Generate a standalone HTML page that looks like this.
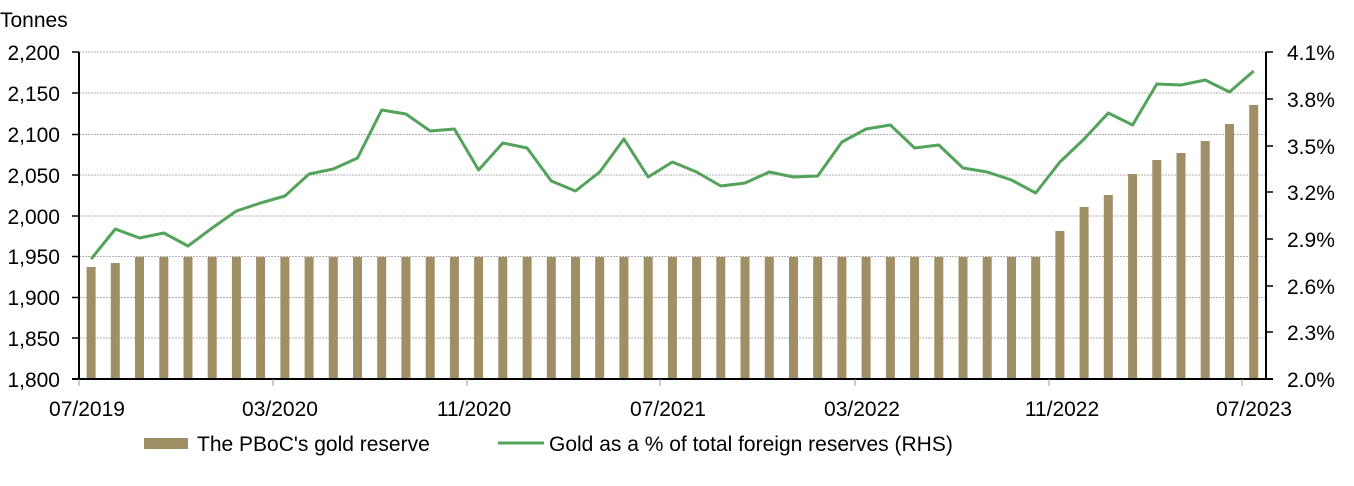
<!DOCTYPE html>
<html><head><meta charset="utf-8"><style>
body{margin:0;background:#fff;}
svg{display:block;font-family:"Liberation Sans",Arial,sans-serif;}
</style></head><body>
<svg width="1354" height="486" viewBox="0 0 1354 486" xmlns="http://www.w3.org/2000/svg">
<g stroke="#b0b0b0" stroke-width="1" stroke-dasharray="2,1">
<line x1="79" y1="52" x2="1266" y2="52"/>
<line x1="79" y1="93" x2="1266" y2="93"/>
<line x1="79" y1="134.5" x2="1266" y2="134.5"/>
<line x1="79" y1="175" x2="1266" y2="175"/>
<line x1="79" y1="216" x2="1266" y2="216"/>
<line x1="79" y1="256.5" x2="1266" y2="256.5"/>
<line x1="79" y1="297.5" x2="1266" y2="297.5"/>
<line x1="79" y1="338" x2="1266" y2="338"/>
</g>
<g fill="#a08f64">
<rect x="86.6" y="267" width="9" height="112"/>
<rect x="110.8" y="263" width="9" height="116"/>
<rect x="135" y="257" width="9" height="122"/>
<rect x="159.3" y="257" width="9" height="122"/>
<rect x="183.5" y="257" width="9" height="122"/>
<rect x="207.7" y="257" width="9" height="122"/>
<rect x="231.9" y="257" width="9" height="122"/>
<rect x="256.1" y="257" width="9" height="122"/>
<rect x="280.4" y="257" width="9" height="122"/>
<rect x="304.6" y="257" width="9" height="122"/>
<rect x="328.8" y="257" width="9" height="122"/>
<rect x="353" y="257" width="9" height="122"/>
<rect x="377.2" y="257" width="9" height="122"/>
<rect x="401.4" y="257" width="9" height="122"/>
<rect x="425.7" y="257" width="9" height="122"/>
<rect x="449.9" y="257" width="9" height="122"/>
<rect x="474.1" y="257" width="9" height="122"/>
<rect x="498.3" y="257" width="9" height="122"/>
<rect x="522.6" y="257" width="9" height="122"/>
<rect x="546.8" y="257" width="9" height="122"/>
<rect x="571" y="257" width="9" height="122"/>
<rect x="595.2" y="257" width="9" height="122"/>
<rect x="619.4" y="257" width="9" height="122"/>
<rect x="643.7" y="257" width="9" height="122"/>
<rect x="667.9" y="257" width="9" height="122"/>
<rect x="692.1" y="257" width="9" height="122"/>
<rect x="716.3" y="257" width="9" height="122"/>
<rect x="740.5" y="257" width="9" height="122"/>
<rect x="764.8" y="257" width="9" height="122"/>
<rect x="789" y="257" width="9" height="122"/>
<rect x="813.2" y="257" width="9" height="122"/>
<rect x="837.4" y="257" width="9" height="122"/>
<rect x="861.6" y="257" width="9" height="122"/>
<rect x="885.9" y="257" width="9" height="122"/>
<rect x="910.1" y="257" width="9" height="122"/>
<rect x="934.3" y="257" width="9" height="122"/>
<rect x="958.5" y="257" width="9" height="122"/>
<rect x="982.7" y="257" width="9" height="122"/>
<rect x="1007" y="257" width="9" height="122"/>
<rect x="1031.2" y="257" width="9" height="122"/>
<rect x="1055.4" y="231" width="9" height="148"/>
<rect x="1079.6" y="207" width="9" height="172"/>
<rect x="1103.8" y="195" width="9" height="184"/>
<rect x="1128.1" y="174" width="9" height="205"/>
<rect x="1152.3" y="160" width="9" height="219"/>
<rect x="1176.5" y="153" width="9" height="226"/>
<rect x="1200.7" y="141" width="9" height="238"/>
<rect x="1225" y="124" width="9" height="255"/>
<rect x="1249.2" y="105" width="9" height="274"/>
</g>
<polyline fill="none" stroke="#54a35a" stroke-width="3" stroke-linejoin="round" points="91.1,259 115.3,229 139.5,238 163.8,233 188,246 212.2,228 236.4,211 260.6,203 284.9,196 309.1,174 333.3,169 357.5,158 381.7,110 405.9,114 430.2,131 454.4,129 478.6,170 502.8,143 527.1,148 551.3,181 575.5,191 599.7,172 623.9,139 648.2,177 672.4,162 696.6,172 720.8,186 745,183 769.3,172 793.5,177 817.7,176 841.9,142 866.1,129 890.4,125 914.6,148 938.8,145 963,168 987.2,172 1011.5,180 1035.7,193 1059.9,162 1084.1,139 1108.3,113 1132.6,125 1156.8,84 1181,85 1205.2,80 1229.5,92 1253.7,71"/>
<g stroke="#000" stroke-width="2" fill="none">
<line x1="79" y1="52" x2="79" y2="380"/>
<line x1="1266" y1="52" x2="1266" y2="380"/>
<line x1="72" y1="379" x2="1273" y2="379"/>
</g>
<g stroke="#000" stroke-width="1.5">
<line x1="72" y1="52" x2="79" y2="52"/><line x1="72" y1="93" x2="79" y2="93"/><line x1="72" y1="134.5" x2="79" y2="134.5"/><line x1="72" y1="175" x2="79" y2="175"/><line x1="72" y1="216" x2="79" y2="216"/><line x1="72" y1="256.5" x2="79" y2="256.5"/><line x1="72" y1="297.5" x2="79" y2="297.5"/><line x1="72" y1="338" x2="79" y2="338"/>
<line x1="1266" y1="52" x2="1273" y2="52"/><line x1="1266" y1="99" x2="1273" y2="99"/><line x1="1266" y1="146" x2="1273" y2="146"/><line x1="1266" y1="192" x2="1273" y2="192"/><line x1="1266" y1="239" x2="1273" y2="239"/><line x1="1266" y1="286" x2="1273" y2="286"/><line x1="1266" y1="332" x2="1273" y2="332"/>
</g>
<g stroke="#999" stroke-width="1">
<line x1="79" y1="379" x2="79" y2="386"/><line x1="273" y1="379" x2="273" y2="386"/><line x1="467" y1="379" x2="467" y2="386"/><line x1="660" y1="379" x2="660" y2="386"/><line x1="855" y1="379" x2="855" y2="386"/><line x1="1049" y1="379" x2="1049" y2="386"/><line x1="1242" y1="379" x2="1242" y2="386"/>
</g>
<g font-size="21" fill="#000">
<text x="0" y="27">Tonnes</text>
<g text-anchor="end">
<text x="60" y="60">2,200</text><text x="60" y="101">2,150</text><text x="60" y="142">2,100</text><text x="60" y="183">2,050</text><text x="60" y="224">2,000</text><text x="60" y="264">1,950</text><text x="60" y="305">1,900</text><text x="60" y="346">1,850</text><text x="60" y="387">1,800</text>
</g>
<text x="1287" y="60">4.1%</text><text x="1287" y="107">3.8%</text><text x="1287" y="154">3.5%</text><text x="1287" y="200">3.2%</text><text x="1287" y="247">2.9%</text><text x="1287" y="294">2.6%</text><text x="1287" y="340">2.3%</text><text x="1287" y="387">2.0%</text>
<g text-anchor="middle">
<text x="87" y="416">07/2019</text><text x="280" y="416">03/2020</text><text x="474" y="416">11/2020</text><text x="668" y="416">07/2021</text><text x="862" y="416">03/2022</text><text x="1062" y="416">11/2022</text><text x="1254" y="416">07/2023</text>
</g>
<rect x="144" y="438" width="44" height="11" fill="#a08f64"/>
<text x="197" y="451">The PBoC's gold reserve</text>
<line x1="498" y1="443" x2="544" y2="443" stroke="#54a35a" stroke-width="3"/>
<text x="549" y="451">Gold as a % of total foreign reserves (RHS)</text>
</g>
</svg>
</body></html>
